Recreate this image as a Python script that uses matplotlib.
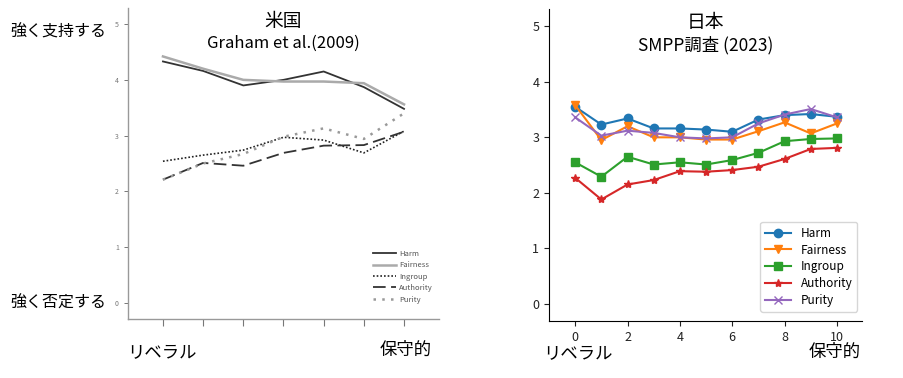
import numpy as np
import matplotlib
matplotlib.use("Agg")
import matplotlib.pyplot as plt

plt.rcParams['font.family'] = ['Noto Sans CJK JP', 'DejaVu Sans']

# --- data: US (Graham et al. 2009), 7 ideology points
us_x = [0, 1, 2, 3, 4, 5, 6]
us_harm = [4.33, 4.16, 3.90, 4.00, 4.15, 3.87, 3.48]
us_fairness = [4.42, 4.20, 4.00, 3.97, 3.97, 3.94, 3.56]
us_ingroup = [2.54, 2.65, 2.74, 2.97, 2.92, 2.69, 3.08]
us_authority = [2.21, 2.51, 2.46, 2.69, 2.82, 2.83, 3.07]
us_purity = [2.21, 2.50, 2.67, 2.98, 3.13, 2.94, 3.40]

# --- data: Japan (SMPP 2023), 11 ideology points
jp_x = list(range(11))
jp_harm = [3.55, 3.23, 3.34, 3.16, 3.16, 3.14, 3.10, 3.32, 3.40, 3.42, 3.37]
jp_fairness = [3.58, 2.95, 3.20, 3.00, 3.00, 2.96, 2.96, 3.11, 3.27, 3.07, 3.25]
jp_ingroup = [2.55, 2.29, 2.65, 2.51, 2.55, 2.51, 2.59, 2.72, 2.93, 2.97, 2.98]
jp_authority = [2.27, 1.88, 2.15, 2.23, 2.39, 2.38, 2.41, 2.47, 2.61, 2.79, 2.81]
jp_purity = [3.36, 3.03, 3.12, 3.08, 3.00, 2.98, 3.00, 3.25, 3.41, 3.51, 3.36]

labels = ['Harm', 'Fairness', 'Ingroup', 'Authority', 'Purity']

fig = plt.figure(figsize=(9.04, 3.78), dpi=100, facecolor='white')

# ---------------- left panel: US
ax1 = fig.add_axes([0.1416, 0.156, 0.344, 0.823])
us_styles = [
    dict(color='#333333', lw=1.3, ls='-'),
    dict(color='#aaaaaa', lw=1.8, ls='-'),
    dict(color='#222222', lw=1.2, ls=(0, (1, 1.2))),
    dict(color='#333333', lw=1.3, ls=(0, (7, 3))),
    dict(color='#999999', lw=1.8, ls=(0, (1, 2.5))),
]
for vals, lab, st in zip([us_harm, us_fairness, us_ingroup, us_authority, us_purity],
                         labels, us_styles):
    ax1.plot(us_x, vals, label=lab, **st)

ax1.set_xlim(-0.87, 6.87)
ax1.set_ylim(-0.29, 5.29)
ax1.set_xticks(us_x)
ax1.set_xticklabels([])
ax1.set_yticks([0, 1, 2, 3, 4, 5])
ax1.tick_params(axis='y', labelsize=5, colors='#777777', length=3, width=0.7)
ax1.tick_params(axis='x', colors='#777777', length=5, width=0.8)
for s in ['top', 'right']:
    ax1.spines[s].set_visible(False)
for s in ['left', 'bottom']:
    ax1.spines[s].set_color('#999999')
    ax1.spines[s].set_linewidth(1.0)

leg1 = ax1.legend(loc='lower right', bbox_to_anchor=(0.99, 0.04), frameon=False,
                  fontsize=5.5, handlelength=3, labelspacing=0.45,
                  handletextpad=0.4, borderaxespad=0)
for t in leg1.get_texts():
    t.set_color('#555555')

ax1.text(0.5, 0.99, '米国', transform=ax1.transAxes, ha='center', va='top', fontsize=13.5)
ax1.text(0.5, 0.915, 'Graham et al.(2009)', transform=ax1.transAxes, ha='center', va='top',
         fontsize=12)

fig.text(10 / 904, 1 - 32 / 378, '強く支持する', ha='left', va='center', fontsize=11.5)
fig.text(10 / 904, 1 - 303 / 378, '強く否定する', ha='left', va='center', fontsize=11.5)
fig.text(127 / 904, 1 - 352 / 378, 'リベラル', ha='left', va='center', fontsize=12.5)
fig.text(432 / 904, 1 - 350 / 378, '保守的', ha='right', va='center', fontsize=12.5)

# ---------------- right panel: Japan
ax2 = fig.add_axes([0.6073, 0.1508, 0.346, 0.825])
markers = ['o', 'v', 's', '*', 'x']
colors = ['#1f77b4', '#ff7f0e', '#2ca02c', '#d62728', '#9467bd']
for vals, lab, m, c in zip([jp_harm, jp_fairness, jp_ingroup, jp_authority, jp_purity],
                           labels, markers, colors):
    ax2.plot(jp_x, vals, marker=m, color=c, label=lab, lw=1.5, markersize=6)

ax2.set_xlim(-1.0, 10.95)
ax2.set_ylim(-0.31, 5.31)
ax2.set_xticks([0, 2, 4, 6, 8, 10])
ax2.set_yticks([0, 1, 2, 3, 4, 5])
ax2.tick_params(labelsize=9, colors='#222222')
for s in ['top', 'right']:
    ax2.spines[s].set_visible(False)

ax2.legend(loc='lower right', bbox_to_anchor=(0.985, 0.03), fontsize=8.5,
           borderaxespad=0, labelspacing=0.32, handlelength=2.2)

ax2.text(0.5, 0.99, '日本', transform=ax2.transAxes, ha='center', va='top', fontsize=13.5)
ax2.text(0.5, 0.915, 'SMPP調査 (2023)', transform=ax2.transAxes, ha='center', va='top',
         fontsize=12.5)

fig.text(543 / 904, 1 - 353 / 378, 'リベラル', ha='left', va='center', fontsize=12.5)
fig.text(861 / 904, 1 - 352 / 378, '保守的', ha='right', va='center', fontsize=12.5)

fig.savefig('out.png', dpi=100, facecolor='white')
